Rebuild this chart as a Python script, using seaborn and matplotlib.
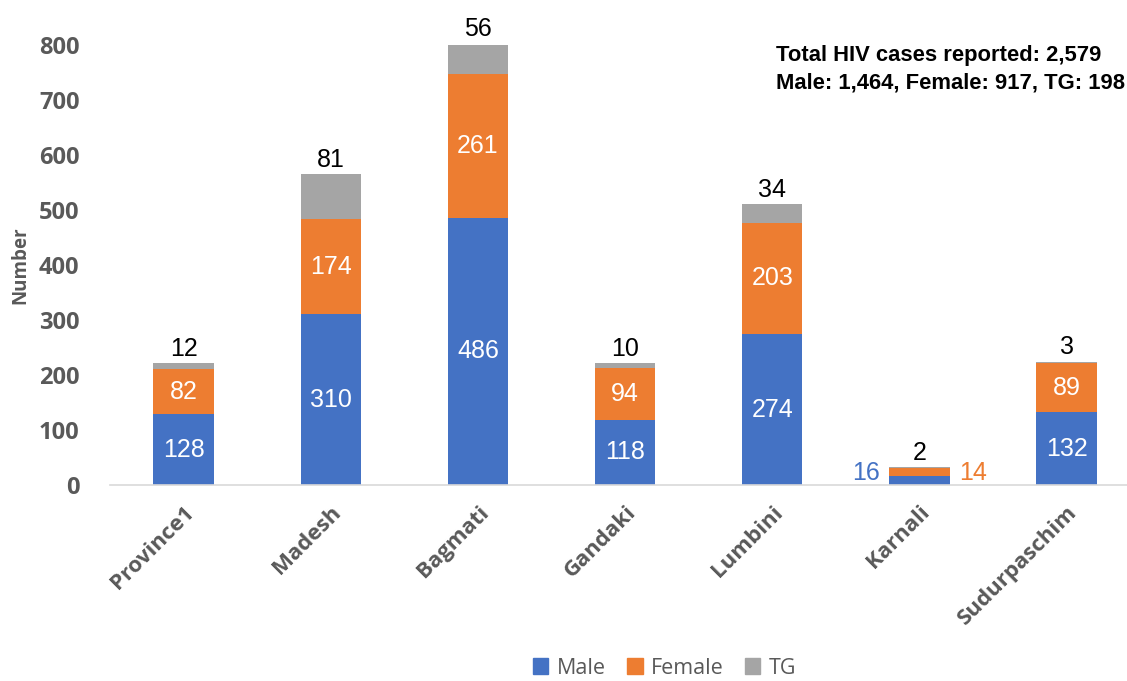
import matplotlib
matplotlib.use('Agg')

import matplotlib.pyplot as plt
import seaborn as sns
import numpy as np
from matplotlib.patches import Patch

# data
provinces = ["Province1", "Madesh", "Bagmati", "Gandaki", "Lumbini", "Karnali", "Sudurpaschim"]
male = [128, 310, 486, 118, 274, 16, 132]
female = [82, 174, 261, 94, 203, 14, 89]
tg = [12, 81, 56, 10, 34, 2, 3]
note_lines = ["Total HIV cases reported: 2,579", "Male: 1,464, Female: 917, TG: 198"]

c_male = "#4472C4"
c_female = "#ED7D31"
c_tg = "#A5A5A5"
gray = "#595959"

sns.set_theme(style="white")
plt.rcParams['font.family'] = ['Open Sans', 'DejaVu Sans']

fig = plt.figure(figsize=(11.27, 6.81), dpi=100)
ax = fig.add_axes([0.0976, 0.288, 0.9024, 0.646])

male_a = np.array(male)
female_a = np.array(female)
tg_a = np.array(tg)

bar_kw = dict(width=0.41, saturation=1, linewidth=0, ax=ax)
sns.barplot(x=provinces, y=male, color=c_male, **bar_kw)
sns.barplot(x=provinces, y=female, bottom=male_a, color=c_female, **bar_kw)
sns.barplot(x=provinces, y=tg, bottom=male_a + female_a, color=c_tg, **bar_kw)

ax.set_ylim(0, 800)
ax.set_xlim(-0.5, 6.41)
ax.set_yticks(np.arange(0, 801, 100))

lab = dict(family=['Liberation Sans', 'DejaVu Sans'], fontsize=18)
for i in range(len(provinces)):
    top = male_a[i] + female_a[i] + tg_a[i]
    if provinces[i] == "Karnali":
        ax.text(i - 0.27, male_a[i] / 2 + 14, str(male[i]), ha="right", va="center", color=c_male, **lab)
        ax.text(i + 0.27, male_a[i] / 2 + 14, str(female[i]), ha="left", va="center", color=c_female, **lab)
    else:
        ax.text(i, male_a[i] / 2, str(male[i]), ha="center", va="center", color="white", **lab)
        ax.text(i, male_a[i] + female_a[i] / 2, str(female[i]), ha="center", va="center", color="white", **lab)
    ax.text(i, top + 4, str(tg[i]), ha="center", va="bottom", color="black", clip_on=False, **lab)

for s in ["top", "right", "left"]:
    ax.spines[s].set_visible(False)
ax.spines["bottom"].set_color("#D9D9D9")
ax.spines["bottom"].set_linewidth(1.2)
ax.tick_params(axis="both", length=0)

ax.set_xticks(range(len(provinces)))
ax.set_xticklabels(provinces, rotation=45, ha="right", rotation_mode="anchor",
                   fontsize=16, fontweight="bold", color=gray)
for t in ax.get_yticklabels():
    t.set_fontsize(17)
    t.set_fontweight("bold")
    t.set_color(gray)
ax.tick_params(axis="x", pad=12)
ax.tick_params(axis="y", pad=22)
ax.set_ylabel("Number", fontsize=13.5, fontweight="bold", color=gray, labelpad=6)

# summary note, top right
for k, line in enumerate(note_lines):
    fig.text(0.6885, 0.919 - k * 0.041, line, ha="left", va="center", fontsize=15.8,
             fontweight="bold", color="black", family=['Liberation Sans', 'DejaVu Sans'])

handles = [Patch(color=c_male, label="Male"), Patch(color=c_female, label="Female"),
           Patch(color=c_tg, label="TG")]
leg = fig.legend(handles=handles, loc="center", bbox_to_anchor=(0.59, 0.019), ncol=3,
                 frameon=False, fontsize=15.5, handlelength=0.7, handleheight=0.7,
                 handletextpad=0.4, columnspacing=1.0, borderpad=0.1)
for t in leg.get_texts():
    t.set_color(gray)

fig.savefig("out.png", dpi=100)
plt.close(fig)
